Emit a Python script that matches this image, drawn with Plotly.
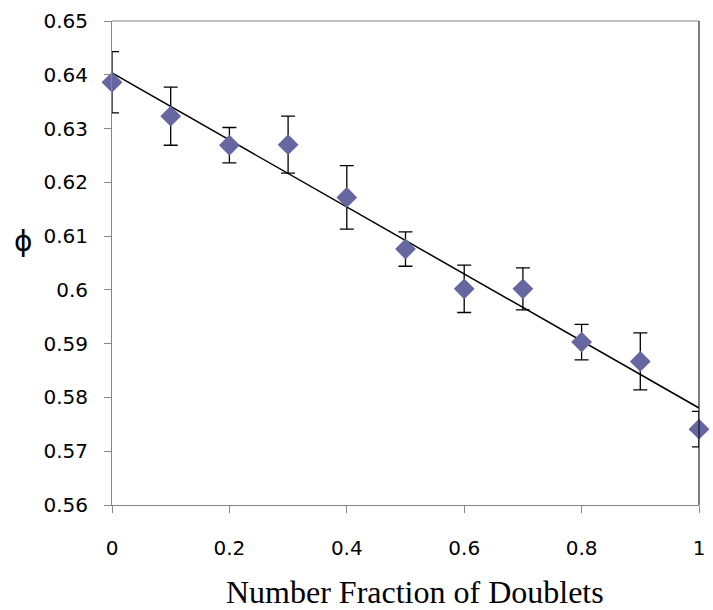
import numpy as np
import plotly.graph_objects as go

fraction = [0.0, 0.1, 0.2, 0.3, 0.4, 0.5, 0.6, 0.7, 0.8, 0.9, 1.0]
phi = [0.6386, 0.6323, 0.6269, 0.6270, 0.6172, 0.6076, 0.6002, 0.6002, 0.5903, 0.5867, 0.5741]
phi_err = [0.0057, 0.0054, 0.0033, 0.0053, 0.0059, 0.0032, 0.0044, 0.0039, 0.0033, 0.0053, 0.0033]

x_ticks = [0, 0.2, 0.4, 0.6, 0.8, 1]
x_tick_text = ["0", "0.2", "0.4", "0.6", "0.8", "1"]
y_ticks = [0.56, 0.57, 0.58, 0.59, 0.60, 0.61, 0.62, 0.63, 0.64, 0.65]
y_tick_text = ["0.56", "0.57", "0.58", "0.59", "0.6", "0.61", "0.62", "0.63", "0.64", "0.65"]

slope, intercept = np.polyfit(fraction, phi, 1)
fit_x = [0.0, 1.0]
fit_y = [intercept + slope * v for v in fit_x]

fig = go.Figure()
fig.add_trace(go.Scatter(
    x=fit_x, y=fit_y, mode="lines",
    line=dict(color="black", width=1.5),
    showlegend=False, hoverinfo="skip", cliponaxis=False,
))
fig.add_trace(go.Scatter(
    x=fraction, y=phi, mode="markers",
    marker=dict(symbol="diamond", size=16, color="rgb(102,102,160)",
                line=dict(width=0)),
    error_y=dict(type="data", array=phi_err, visible=True,
                 color="black", thickness=1.3, width=7),
    showlegend=False, cliponaxis=False,
))

axis_gray = "#868686"
fig.update_layout(
    width=713, height=610,
    margin=dict(l=112, r=8, t=21, b=105),
    paper_bgcolor="white", plot_bgcolor="white",
    font=dict(family="DejaVu Sans", size=20, color="black"),
    xaxis=dict(
        range=[0, 1], tickvals=x_ticks, ticktext=x_tick_text,
        showgrid=False, zeroline=False,
        showline=True, linecolor=axis_gray, linewidth=1,
        ticks="outside", ticklen=7, tickcolor=axis_gray, tickwidth=1,
        ticklabelstandoff=18,
        tickfont=dict(family="DejaVu Sans", size=20, color="black"),
    ),
    yaxis=dict(
        range=[0.56, 0.65], tickvals=y_ticks, ticktext=y_tick_text,
        showgrid=False, zeroline=False,
        showline=True, linecolor=axis_gray, linewidth=1,
        ticks="outside", ticklen=7, tickcolor=axis_gray, tickwidth=1,
        ticklabelstandoff=12,
        tickfont=dict(family="DejaVu Sans", size=20, color="black"),
    ),
    shapes=[
        dict(type="line", xref="paper", yref="paper", x0=0, x1=1, y0=1, y1=1,
             line=dict(color=axis_gray, width=1)),
        dict(type="line", xref="paper", yref="paper", x0=1, x1=1, y0=0, y1=1,
             line=dict(color="black", width=1)),
    ],
    annotations=[
        dict(text="Number Fraction of Doublets", xref="paper", yref="paper",
             x=0.516, y=-0.18, xanchor="center", yanchor="middle", showarrow=False,
             font=dict(family="Liberation Serif", size=32, color="black")),
        dict(text="ϕ", xref="paper", yref="paper",
             x=-0.152, y=0.545, xanchor="center", yanchor="middle", showarrow=False,
             font=dict(family="DejaVu Sans", size=28, color="black")),
    ],
)

fig.write_html(
    "out.html",
    config={"displayModeBar": False},
    post_script="document.body.style.margin='0';document.body.style.overflow='hidden';",
)
